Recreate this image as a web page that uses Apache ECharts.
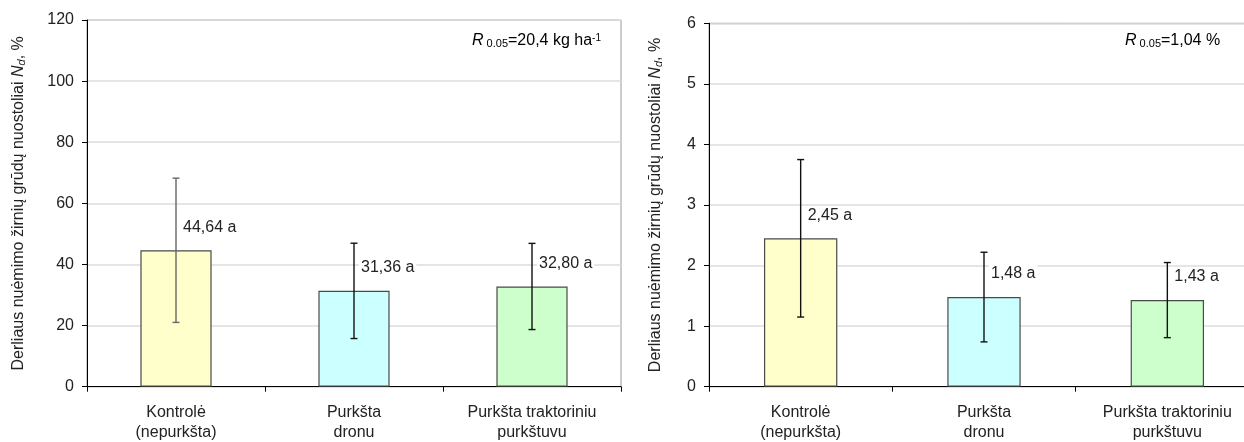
<!DOCTYPE html>
<html>
<head>
<meta charset="utf-8">
<script src="https://cdn.jsdelivr.net/npm/echarts@6/dist/echarts.min.js"></script>
<style>
html,body{margin:0;padding:0;background:#fff;}
#c{width:1244px;height:442px;}
</style>
</head>
<body>
<div id="c"></div>
<script>
// ---- data ----
var categories = ['Kontrolė\n(nepurkšta)', 'Purkšta\ndronu', 'Purkšta traktoriniu\npurkštuvu'];
var lossKg = [44.64, 31.36, 32.80];
var lossKgErr = [23.6, 15.6, 14.1];
var lossPct = [2.45, 1.48, 1.43];
var lossPctErr = [1.30, 0.74, 0.62];
var letters = ['a', 'a', 'a'];
var leftTicks = {min: 0, max: 120, interval: 20};
var rightTicks = {min: 0, max: 6, interval: 1};
var r05Left = '20,4 kg ha';
var r05Right = '1,04 %';
var yTitle = 'Derliaus nuėmimo žirnių grūdų nuostoliai ';

// ---- styles ----
var barColors = ['#FFFFCC', '#CCFFFF', '#CCFFCC'];
var errColorsLeft = ['#666666', '#111', '#111'];
var errColorsRight = ['#111', '#111', '#111'];
var FONT = 'Liberation Sans, Arial, sans-serif';
var FS = 16;

function fmt(v, i) { return v.toFixed(2).replace('.', ',') + ' ' + letters[i]; }

function errData(vals, errs) {
  return vals.map(function (v, i) { return [i, v - errs[i], v + errs[i]]; });
}

function errRender(colors) {
  return function (params, api) {
    var x = api.value(0);
    var lo = api.coord([x, api.value(1)]);
    var hi = api.coord([x, api.value(2)]);
    var w = 3.5;
    var st = {stroke: colors[params.dataIndex], lineWidth: 1.4};
    return {
      type: 'group',
      children: [
        {type: 'line', shape: {x1: lo[0], y1: lo[1], x2: hi[0], y2: hi[1]}, style: st},
        {type: 'line', shape: {x1: lo[0] - w, y1: lo[1], x2: lo[0] + w, y2: lo[1]}, style: st},
        {type: 'line', shape: {x1: hi[0] - w, y1: hi[1], x2: hi[0] + w, y2: hi[1]}, style: st}
      ]
    };
  };
}

function xAx(gi) {
  return {
    type: 'category', gridIndex: gi, data: categories,
    axisLine: {lineStyle: {color: '#000', width: 1}},
    axisTick: {show: true, length: 5, lineStyle: {color: '#000'}},
    axisLabel: {color: '#222', fontFamily: FONT, fontSize: FS, lineHeight: 20, margin: 16, interval: 0}
  };
}
function yAx(gi, t, gap) {
  return {
    type: 'value', gridIndex: gi, min: t.min, max: t.max, interval: t.interval,
    name: yTitle + '{i|N}{sub|d}, %',
    nameLocation: 'middle', nameGap: gap,
    nameTextStyle: {color: '#222', fontFamily: FONT, fontSize: FS,
      rich: {i: {fontStyle: 'italic', fontFamily: FONT, fontSize: FS, color: '#222'},
             sub: {fontStyle: 'italic', fontFamily: FONT, fontSize: 11, color: '#222', verticalAlign: 'bottom'}}},
    axisLine: {show: true, lineStyle: {color: '#000', width: 1}},
    axisTick: {show: true, length: 5, lineStyle: {color: '#000'}},
    axisLabel: {color: '#222', fontFamily: FONT, fontSize: FS, margin: 13},
    splitLine: {show: true, lineStyle: {color: '#dcdcdc', width: 1.5}}
  };
}

function barSeries(gi, vals) {
  return {
    type: 'bar', xAxisIndex: gi, yAxisIndex: gi, data: vals, barWidth: '40%',
    itemStyle: {color: function (p) { return barColors[p.dataIndex]; }, borderColor: '#4a4a4a', borderWidth: 1.2},
    label: {
      show: true, position: ['50%', 0], offset: [5, -23], align: 'left', verticalAlign: 'middle',
      formatter: function (p) { return fmt(p.value, p.dataIndex); },
      color: '#222', fontFamily: FONT, fontSize: FS, backgroundColor: '#fff', padding: [1, 2]
    },
    silent: true, animation: false
  };
}

var richR = {
  i: {fontStyle: 'italic', fontFamily: FONT, fontSize: FS, color: '#222'},
  sub: {fontFamily: FONT, fontSize: 11, color: '#222', verticalAlign: 'bottom'},
  sup: {fontFamily: FONT, fontSize: 10, color: '#222', verticalAlign: 'top'},
  n: {fontFamily: FONT, fontSize: FS, color: '#222'}
};

var option = {
  animation: false,
  backgroundColor: '#fff',
  grid: [
    {left: 87, top: 20, width: 534, height: 366.7, show: true, borderColor: '#9a9a9a', borderWidth: 1, outerBoundsMode: 'none', containLabel: false},
    {left: 709, top: 23.3, width: 550, height: 363.4, show: true, borderColor: '#9a9a9a', borderWidth: 1, outerBoundsMode: 'none', containLabel: false}
  ],
  xAxis: [xAx(0), xAx(1)],
  yAxis: [yAx(0, leftTicks, 60), yAx(1, rightTicks, 45)],
  series: [
    barSeries(0, lossKg),
    {type: 'custom', xAxisIndex: 0, yAxisIndex: 0, data: errData(lossKg, lossKgErr), renderItem: errRender(errColorsLeft), z: 5, silent: true},
    barSeries(1, lossPct),
    {type: 'custom', xAxisIndex: 1, yAxisIndex: 1, data: errData(lossPct, lossPctErr), renderItem: errRender(errColorsRight), z: 5, silent: true}
  ],
  graphic: [
    {type: 'text', left: 472, top: 33, style: {text: '{i|R}{sub| 0.05}{n|=' + r05Left + '}{sup|-1}', rich: richR}},
    {type: 'text', left: 1125, top: 33, style: {text: '{i|R}{sub| 0.05}{n|=' + r05Right + '}', rich: richR}}
  ]
};

var chart = echarts.init(document.getElementById('c'), null, {renderer: 'canvas'});
chart.setOption(option);
</script>
</body>
</html>
